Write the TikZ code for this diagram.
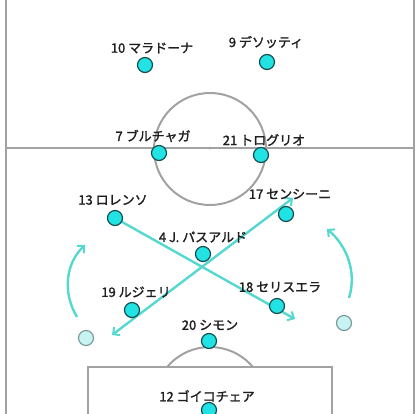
\documentclass[tikz,border=0pt]{standalone}
\usepackage{fontspec}
\newfontfamily\jp[BoldFont=Noto Sans CJK JP, BoldFeatures={FakeBold=1.5}]{Noto Sans CJK JP}
\usetikzlibrary{arrows.meta}
\pgfdeclarelayer{bg}
\pgfsetlayers{bg,main}
\definecolor{fieldline}{HTML}{A2A2A2}
\definecolor{pfill}{HTML}{22E3E3}
\definecolor{pdraw}{HTML}{164F52}
\definecolor{gfill}{HTML}{C8F3F3}
\definecolor{gdraw}{HTML}{7E9C9C}
\definecolor{mvcol}{HTML}{55D8CF}
\definecolor{txt}{HTML}{1E1E1E}
\tikzset{
  field/.style={draw=fieldline, line width=2pt},
  player/.style={circle, fill=pfill, draw=pdraw, line width=1.2pt, minimum size=15pt, inner sep=0pt},
  ghost/.style={circle, fill=gfill, draw=gdraw, line width=1.2pt, minimum size=15pt, inner sep=0pt},
  lbl/.style={font=\jp\bfseries\fontsize{13}{15}\selectfont, text=txt, inner sep=0pt},
  barb/.tip={Straight Barb[length=5pt,width=10pt,line width=2pt]},
  move/.style={draw=mvcol, line width=2.4pt, -barb},
}
\begin{document}
\begin{tikzpicture}[x=1pt,y=-1pt]
\useasboundingbox (0,0) rectangle (420,413);
% players
\node[player] (p10) at (145,65) {};
\node[player] (p9) at (267,62) {};
\node[player] (p7) at (159,153) {};
\node[player] (p21) at (261,155) {};
\node[player] (p13) at (115,218) {};
\node[player] (p17) at (286,214) {};
\node[player] (p4) at (203,254) {};
\node[player] (p19) at (132,310) {};
\node[player] (p18) at (277,306) {};
\node[player] (p20) at (209,341) {};
\node[player] (p12) at (209,410) {};
\node[ghost] (g1) at (86,338) {};
\node[ghost] (g2) at (344,323) {};
% movement coordinates
\coordinate (e1) at (295,319);
\coordinate (e2a) at (112,335);
\coordinate (e2b) at (293,198);
\coordinate (la) at (77,317);
\coordinate (lb) at (85,245);
\coordinate (ra) at (349,298);
\coordinate (rb) at (327,229);
\begin{pgfonlayer}{bg}
\fill[white] (0,0) rectangle (420,413);
% field
\draw[field] (6,-2) -- (6,415);
\draw[field] (414,-2) -- (414,415);
\draw[field] (6,148) -- (414,148);
\draw[field] (210,149) circle (56);
\fill[fieldline] (210,148) circle (1.5);
\draw[field] (88,415) -- (88,367) -- (332,367) -- (332,415);
\begin{scope}
\clip (0,0) rectangle (420,366);
\draw[field] (210,403) circle (56);
\end{scope}
% movements
\draw[move] (p13.center) -- (e1);
\draw[move,barb-barb] (e2a) -- (e2b);
\draw[move] (la) .. controls (62,292) and (66,263) .. (lb);
\draw[move] (ra) .. controls (357,272) and (347,246) .. (rb);
\end{pgfonlayer}
% labels
\node[lbl] (l10) at (152,48) {10 マラドーナ};
\node[lbl] (l9) at (266,42) {9 デソッティ};
\node[lbl] (l7) at (153,136) {7 ブルチャガ};
\node[lbl] (l21) at (264,140) {21 トログリオ};
\node[lbl] (l13) at (113,200) {13 ロレンソ};
\node[lbl] (l17) at (290,194) {17 センシーニ};
\node[lbl] (l4) at (203,237) {4 J. パスアルド};
\node[lbl] (l19) at (136,292) {19 ルジェリ};
\node[lbl] (l18) at (280,287) {18 セリスエラ};
\node[lbl] (l20) at (210,325) {20 シモン};
\node[lbl] (l12) at (207,396) {12 ゴイコチェア};
\end{tikzpicture}
\end{document}
